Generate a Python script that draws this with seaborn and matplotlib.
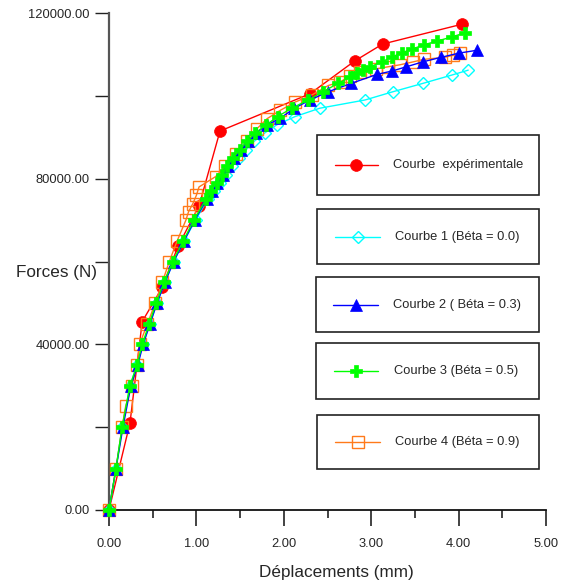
import matplotlib
matplotlib.use("Agg")
import matplotlib.pyplot as plt
import numpy as np
import seaborn as sns
from matplotlib.patches import Rectangle
from matplotlib.lines import Line2D

# ---------------- data ----------------
exp_d = [0, 0.24, 0.38, 0.61, 0.79, 1.03, 1.27, 2.30, 2.81, 3.13, 4.04]
exp_F = [0, 21000, 45500, 53800, 63700, 73400, 91500, 100500, 108400, 112500, 117300]

c1_d = [0, 0.08, 0.15, 0.24, 0.32, 0.39, 0.47, 0.55, 0.64, 0.74, 0.86, 0.99, 1.13, 1.20, 1.27, 1.34, 1.41, 1.49, 1.57, 1.66, 1.78, 1.92, 2.13, 2.41, 2.93, 3.25, 3.59, 3.92, 4.11]
c1_F = [0, 10000, 20000, 30000, 35000, 40000, 45000, 50000, 55000, 60000, 65000, 70000, 75000, 77000, 79000, 81000, 83000, 85000, 87000, 89000, 91000, 93000, 95000, 97000, 99000, 101000, 103000, 105000, 106200]

c2_d = [0, 0.08, 0.16, 0.25, 0.33, 0.39, 0.47, 0.55, 0.64, 0.74, 0.86, 0.98, 1.12, 1.18, 1.24, 1.30, 1.36, 1.43, 1.51, 1.59, 1.68, 1.81, 1.96, 2.12, 2.30, 2.51, 2.77, 3.07, 3.24, 3.40, 3.59, 3.80, 4.00, 4.21]
c2_F = [0, 10000, 20000, 30000, 35000, 40000, 45000, 50000, 55000, 60000, 65000, 70000, 75000, 77000, 79000, 81000, 83000, 85000, 87000, 89000, 91000, 93000, 94600, 97000, 99000, 101000, 103000, 105200, 106000, 107000, 108200, 109300, 110300, 111000]

c3_d = [0, 0.08, 0.15, 0.24, 0.32, 0.38, 0.46, 0.54, 0.63, 0.73, 0.85, 0.97, 1.11, 1.17, 1.23, 1.29, 1.35, 1.42, 1.50, 1.58, 1.67, 1.80, 1.93, 2.09, 2.28, 2.45, 2.62, 2.76, 2.84, 2.91, 2.99, 3.12, 3.24, 3.35, 3.47, 3.60, 3.75, 3.92, 4.07]
c3_F = [0, 10000, 20000, 30000, 35000, 40000, 45000, 50000, 55000, 60000, 65000, 70000, 75000, 77000, 79000, 81000, 83000, 85000, 87000, 89000, 91000, 93000, 95000, 97000, 99000, 101000, 103000, 104500, 105500, 106200, 107000, 108200, 109400, 110400, 111300, 112300, 113200, 114200, 115200]

c4_d = [0, 0.08, 0.15, 0.19, 0.26, 0.32, 0.35, 0.44, 0.53, 0.61, 0.69, 0.78, 0.88, 0.91, 0.96, 1.00, 1.03, 1.22, 1.33, 1.45, 1.58, 1.69, 1.81, 1.96, 2.13, 2.32, 2.51, 2.64, 2.76, 2.87, 3.05, 3.19, 3.33, 3.48, 3.60, 3.84, 3.94, 4.02]
c4_F = [0, 10000, 20000, 25000, 30000, 35000, 40000, 45000, 50000, 55000, 60000, 65000, 70000, 72000, 74000, 76000, 78000, 80500, 83000, 86000, 89000, 92000, 94500, 96500, 98500, 100200, 102500, 103300, 104800, 105800, 106500, 107000, 107500, 108200, 108800, 109300, 109800, 110300]

labels = ["Courbe  expérimentale", "Courbe 1 (Béta = 0.0)", "Courbe 2 ( Béta = 0.3)",
          "Courbe 3 (Béta = 0.5)", "Courbe 4 (Béta = 0.9)"]
x_ticks = [0, 1, 2, 3, 4, 5]
y_ticks = [0, 40000, 80000, 120000]

# ---------------- style ----------------
sns.set_theme(style="white")
plt.rcParams["font.family"] = ["Liberation Sans", "DejaVu Sans"]

W, H = 570, 585
fig = plt.figure(figsize=(W / 100, H / 100), dpi=100)
ax = fig.add_axes([109 / W, 1 - 510 / H, (546 - 109) / W, (510 - 13) / H])

RED, CYAN, BLUE, GREEN, ORANGE = "#ff0000", "#00ffff", "#0000ff", "#00ff00", "#ff7a1a"

styles = [
    dict(color=RED, marker="o", markersize=8.5, markerfacecolor=RED, markeredgecolor=RED, markeredgewidth=0.5),
    dict(color=CYAN, marker="D", markersize=6.5, markerfacecolor="none", markeredgecolor=CYAN, markeredgewidth=1.0),
    dict(color=BLUE, marker="^", markersize=9, markerfacecolor=BLUE, markeredgecolor=BLUE, markeredgewidth=0.5),
    dict(color=GREEN, marker="P", markersize=8.5, markerfacecolor=GREEN, markeredgecolor=GREEN, markeredgewidth=0.5),
    dict(color=ORANGE, marker="s", markersize=8, markerfacecolor="none", markeredgecolor=ORANGE, markeredgewidth=1.0),
]
series = [(exp_d, exp_F), (c1_d, c1_F), (c2_d, c2_F), (c3_d, c3_F), (c4_d, c4_F)]
order = [0, 1, 4, 2, 3]
for i in order:
    d, F = series[i]
    sns.lineplot(x=d, y=F, ax=ax, estimator=None, sort=False, linewidth=1.0,
                 legend=False, clip_on=False, zorder=3 + order.index(i), **styles[i])

ax.set_xlim(0, 5)
ax.set_ylim(0, 120000)
ax.set_xticks(x_ticks)
ax.set_xticklabels([f"{v:.2f}" for v in x_ticks])
ax.set_xticks(np.arange(0.5, 5, 1.0), minor=True)
ax.set_yticks(y_ticks)
ax.set_yticklabels([f"{v:.2f}" for v in y_ticks])
ax.set_yticks([20000, 60000, 100000], minor=True)

ax.tick_params(axis="x", which="major", direction="out", length=11.5, width=1.2,
               color="#222222", pad=8.5, labelsize=9.3, bottom=True)
ax.tick_params(axis="x", which="minor", direction="out", length=5.8, width=1.2,
               color="#222222", bottom=True)
ax.tick_params(axis="y", which="both", direction="out", length=10, width=1.0,
               color="#222222", pad=4, labelsize=9.3, left=True)
for s in ["top", "right"]:
    ax.spines[s].set_visible(False)
ax.spines["left"].set_color("#555555")
ax.spines["left"].set_linewidth(1.6)
ax.spines["bottom"].set_color("#111111")
ax.spines["bottom"].set_linewidth(1.3)
ax.set_xlabel("")
ax.set_ylabel("")

fig.text(97 / W, 1 - 272 / H, "Forces (N)", ha="right", va="center", fontsize=12.3)
fig.text(336 / W, 1 - 573 / H, "Déplacements (mm)", ha="center", va="center", fontsize=12.3)

# ---------------- legend boxes ----------------
boxes = [(317, 135, 539, 195, 335, 378, 165, 393),
         (317, 209, 539, 264, 335, 380, 237, 395),
         (316, 277, 539, 332, 333, 378, 305, 393),
         (316, 343, 539, 399, 334, 378, 371, 394),
         (317, 415, 539, 469, 335, 380, 442, 395)]
for i, (x0, y0, x1, y1, hx0, hx1, hy, tx) in enumerate(boxes):
    rect = Rectangle((x0 / W, 1 - y1 / H), (x1 - x0) / W, (y1 - y0) / H,
                     transform=fig.transFigure, fill=True, facecolor="white",
                     edgecolor="#222222", linewidth=1.2, zorder=10)
    fig.add_artist(rect)
    st = styles[i]
    ln = Line2D([hx0 / W, hx1 / W], [1 - hy / H, 1 - hy / H], transform=fig.transFigure,
                color=st["color"], linewidth=1.0, zorder=11)
    fig.add_artist(ln)
    mk = Line2D([(hx0 + hx1) / 2 / W], [1 - hy / H], transform=fig.transFigure,
                linestyle="none", zorder=12,
                **{k: v for k, v in st.items() if k != "color"})
    fig.add_artist(mk)
    fig.text(tx / W, 1 - hy / H, labels[i], ha="left", va="center", fontsize=9.3, zorder=13)

fig.savefig("out.png", dpi=100)
